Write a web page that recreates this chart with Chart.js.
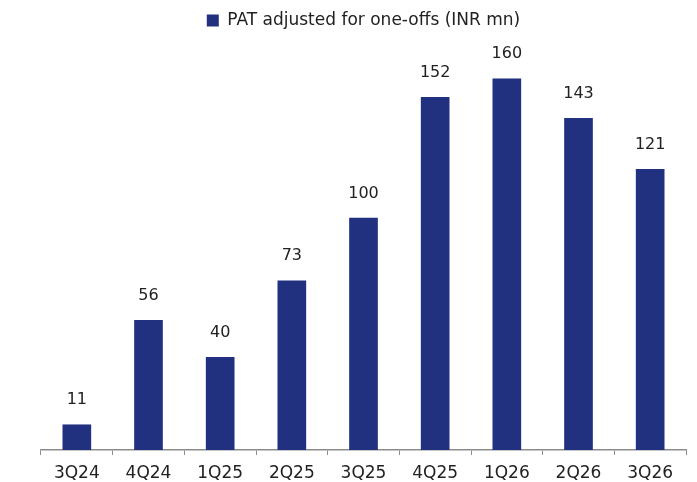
<!DOCTYPE html>
<html lang="en">
<head>
    <meta charset="UTF-8">
    <title>PAT adjusted for one-offs</title>
    <script src="https://cdn.jsdelivr.net/npm/chart.js@4.4.1/dist/chart.umd.min.js"></script>
    <style>
        html, body { margin: 0; padding: 0; background: #fff; overflow: hidden; }
        #wrap { width: 697px; height: 492px; position: relative; }
    </style>
</head>
<body>
    <div id="wrap"><canvas id="patChart"></canvas></div>

    <script>
        // data
        const quarters = ['3Q24', '4Q24', '1Q25', '2Q25', '3Q25', '4Q25', '1Q26', '2Q26', '3Q26'];
        const patValues = [11, 56, 40, 73, 100, 152, 160, 143, 121];
        const seriesName = 'PAT adjusted for one-offs (INR mn)';

        const FONT = '"DejaVu Sans", sans-serif';
        const BAR = '#22317f';

        // value labels above each bar
        const valueLabels = {
            id: 'valueLabels',
            afterDatasetsDraw(chart) {
                const ctx = chart.ctx;
                const meta = chart.getDatasetMeta(0);
                ctx.save();
                ctx.font = '16px ' + FONT;
                ctx.fillStyle = '#222';
                ctx.textAlign = 'center';
                ctx.textBaseline = 'alphabetic';
                meta.data.forEach((bar, i) => {
                    ctx.fillText(patValues[i], bar.x, bar.y - 20);
                });
                ctx.restore();
            }
        };

        new Chart(document.getElementById('patChart'), {
            type: 'bar',
            data: {
                labels: quarters,
                datasets: [{
                    label: seriesName,
                    data: patValues,
                    backgroundColor: BAR,
                    borderWidth: 0,
                    categoryPercentage: 1,
                    barPercentage: 0.4
                }]
            },
            options: {
                responsive: true,
                maintainAspectRatio: false,
                animation: false,
                layout: { padding: { left: 41, right: 11, top: 4, bottom: 0 } },
                plugins: {
                    legend: {
                        position: 'top',
                        labels: {
                            boxWidth: 12,
                            boxHeight: 12,
                            padding: 8,
                            color: '#222',
                            font: { family: FONT, size: 17 }
                        }
                    },
                    tooltip: { enabled: false }
                },
                scales: {
                    x: {
                        grid: {
                            offset: true,
                            drawOnChartArea: false,
                            drawTicks: true,
                            tickLength: 5,
                            color: '#8c8c8c'
                        },
                        border: { display: true, color: '#8c8c8c', width: 1.5 },
                        ticks: {
                            color: '#222',
                            padding: 10,
                            font: { family: FONT, size: 17, lineHeight: 1 }
                        }
                    },
                    y: {
                        display: false,
                        min: 0,
                        max: 177
                    }
                }
            },
            plugins: [valueLabels]
        });
    </script>
</body>
</html>
